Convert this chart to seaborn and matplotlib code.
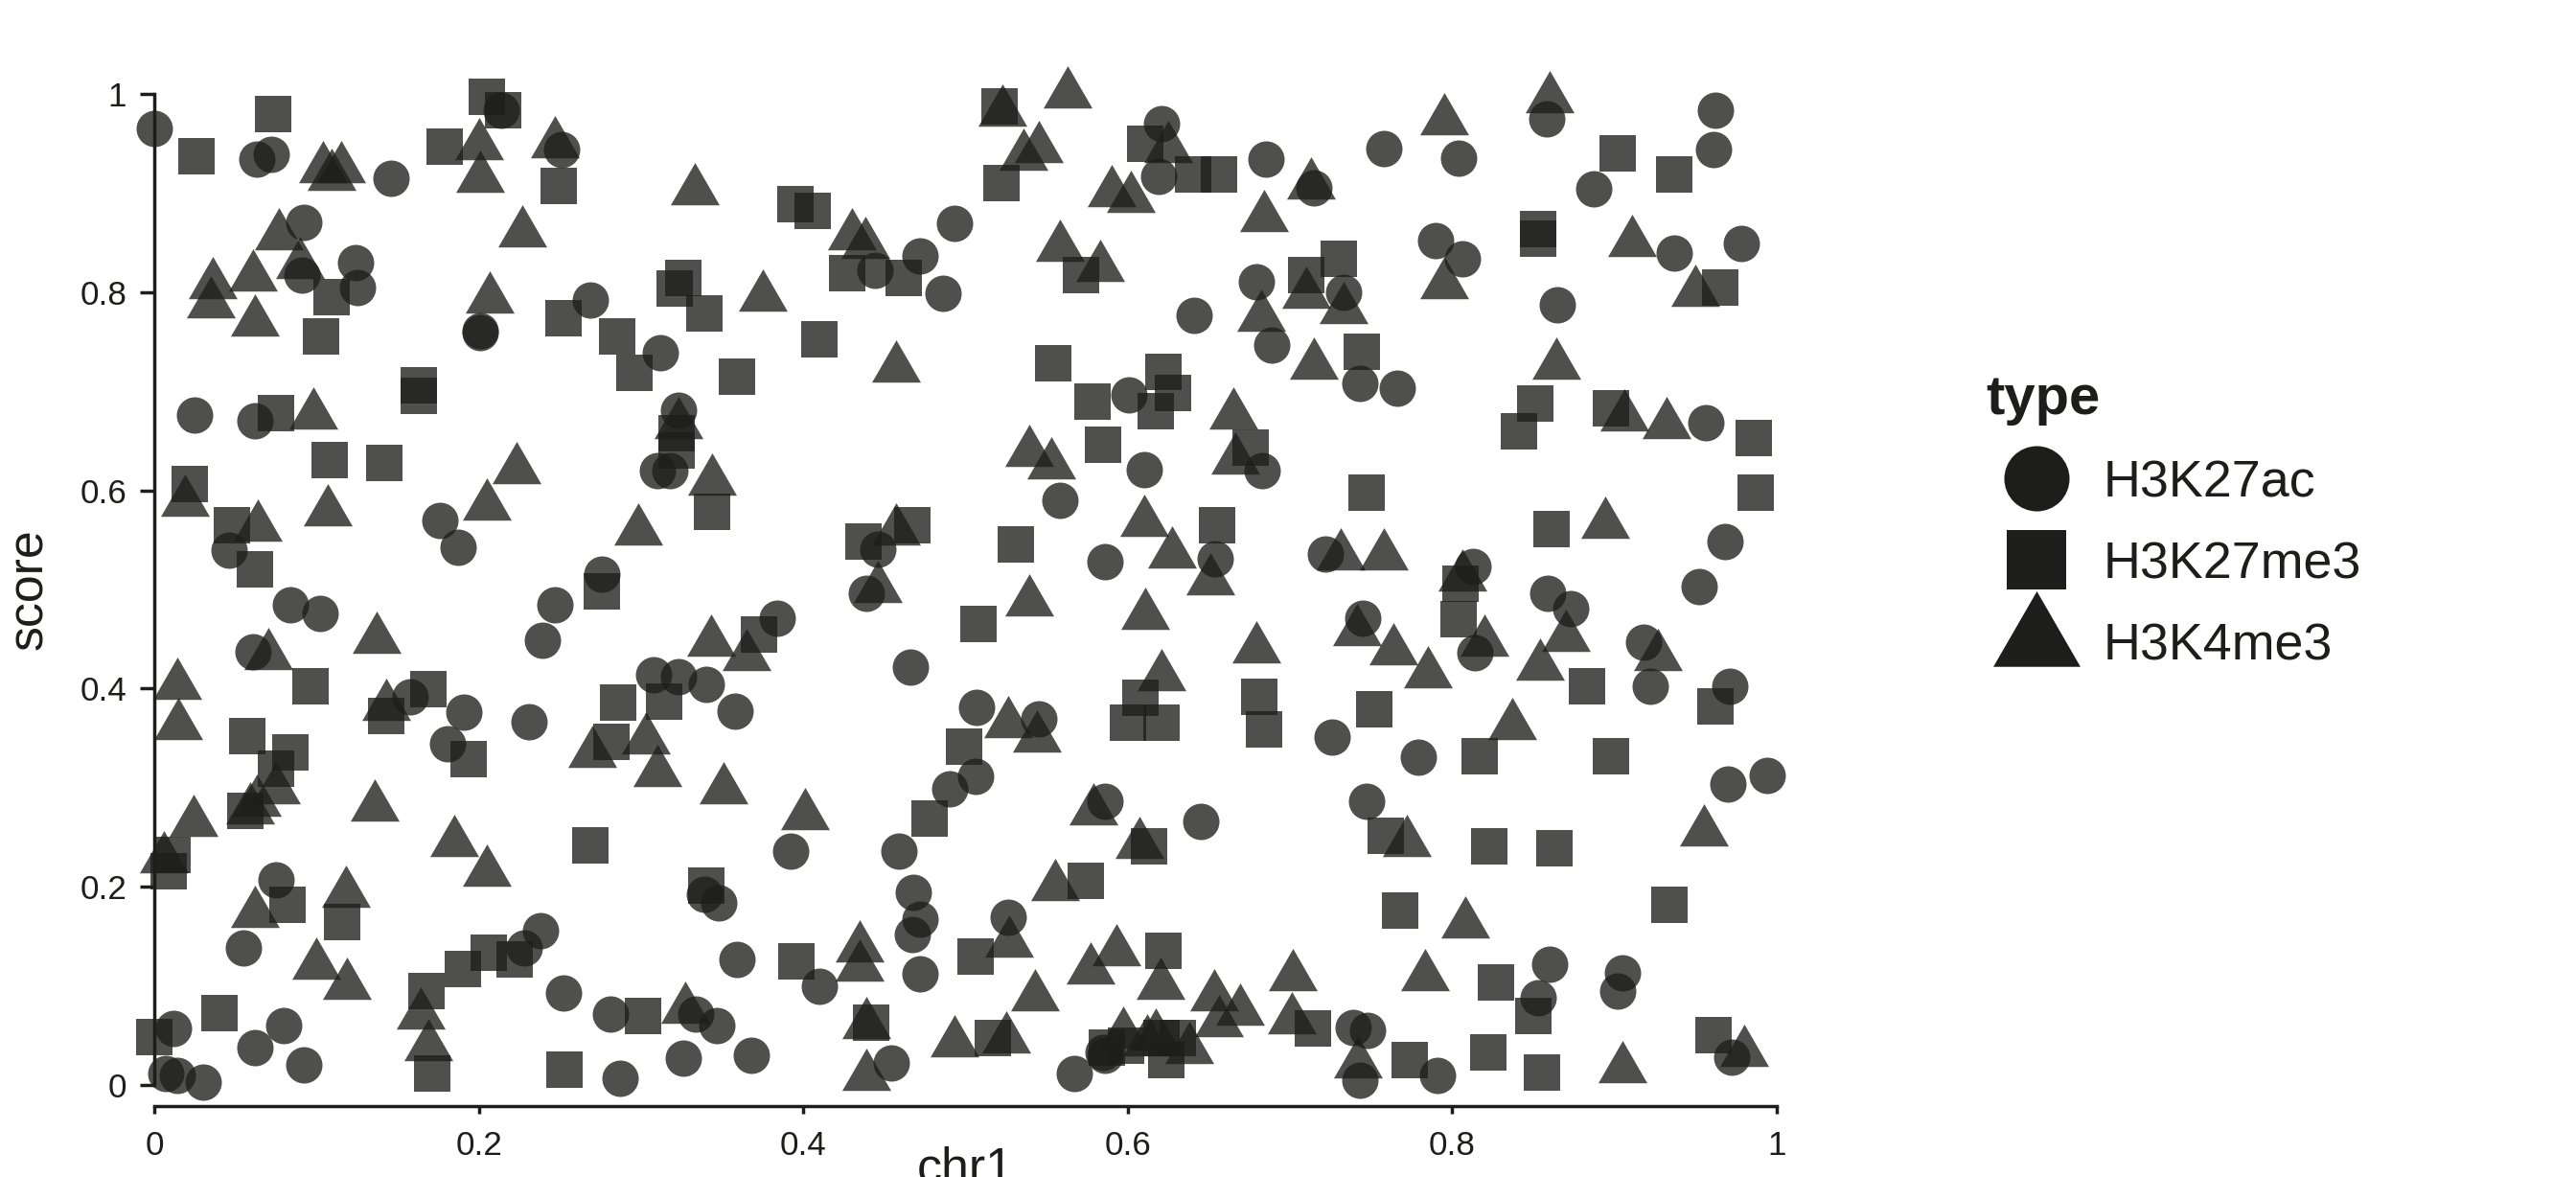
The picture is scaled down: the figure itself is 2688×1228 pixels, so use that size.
import matplotlib
matplotlib.use("Agg")
import matplotlib.pyplot as plt
from matplotlib.lines import Line2D
import seaborn as sns
import pandas as pd

sns.set_theme(style="white")
plt.rcParams['font.family'] = ['Liberation Sans', 'DejaVu Sans']

ac_x = [0,.063,.072,.146,.092,.091,.124,.125,.214,.251,.201,.201,.269,.312,.323,.31,.318,.025,.062,.176,.187,.046,.084,.102,.061,.276,.247,.239,.384,.308,.323,.34,.358,.158,.191,.181,.231,.075,.055,.238,.228,.252,.339,.348,.359,.281,.334,.347,.368,.326,.287,.012,.08,.062,.092,.007,.014,.03,.41,.392,.459,.468,.472,.467,.472,.454,.446,.439,.466,.507,.545,.49,.506,.526,.444,.472,.486,.493,.558,.586,.586,.645,.567,.586,.585,.601,.61,.621,.619,.641,.685,.689,.679,.683,.654,.715,.758,.804,.79,.806,.733,.743,.766,.722,.745,.726,.747,.779,.739,.748,.743,.791,.813,.814,.873,.859,.858,.865,.887,.937,.961,.962,.978,.956,.968,.952,.918,.922,.971,.97,.994,.86,.853,.905,.902,.972]
ac_y = [.965,.934,.939,.915,.870,.817,.830,.805,.984,.944,.759,.761,.792,.739,.681,.620,.620,.676,.670,.570,.543,.540,.485,.476,.437,.515,.485,.449,.471,.414,.412,.404,.377,.392,.376,.344,.367,.207,.138,.156,.138,.093,.192,.184,.127,.072,.072,.060,.030,.027,.007,.057,.060,.038,.020,.012,.010,.003,.100,.236,.236,.194,.167,.152,.112,.022,.541,.496,.422,.381,.369,.299,.311,.169,.822,.837,.799,.869,.590,.528,.286,.266,.012,.030,.033,.696,.621,.970,.917,.777,.934,.747,.810,.620,.531,.905,.945,.935,.852,.834,.800,.708,.703,.536,.471,.351,.286,.331,.058,.055,.005,.010,.523,.436,.481,.496,.975,.787,.904,.839,.944,.984,.849,.668,.548,.503,.447,.402,.402,.304,.312,.122,.088,.113,.095,.028]

me3_x = [.073,.026,.205,.215,.179,.249,.103,.109,.163,.163,.252,.285,.296,.321,.326,.339,.359,.395,.406,.41,.427,.462,.075,.108,.142,.022,.048,.062,.096,.169,.143,.057,.084,.075,.056,.194,.322,.322,.344,.437,.467,.276,.286,.282,.314,.373,.269,.34,.011,.009,.082,.116,.04,0,.168,.171,.19,.206,.222,.253,.301,.396,.442,.478,.499,.508,.531,.506,.517,.522,.521,.554,.571,.578,.585,.574,.611,.64,.656,.622,.617,.628,.655,.676,.71,.73,.744,.747,.681,.684,.608,.6,.621,.613,.622,.587,.599,.621,.631,.624,.714,.752,.759,.768,.774,.822,.827,.823,.817,.805,.804,.841,.851,.853,.853,.861,.863,.883,.898,.898,.902,.937,.965,.986,.987,.962,.934,.961,.85,.855]
me3_y = [.980,.937,.997,.984,.947,.907,.755,.795,.706,.695,.774,.755,.719,.804,.814,.779,.715,.889,.882,.752,.819,.814,.678,.631,.628,.606,.565,.520,.402,.399,.372,.352,.336,.319,.277,.329,.658,.640,.578,.548,.565,.498,.386,.346,.387,.455,.242,.201,.232,.216,.182,.164,.073,.048,.095,.012,.117,.133,.127,.015,.070,.125,.063,.269,.341,.465,.545,.130,.047,.910,.987,.728,.817,.690,.646,.206,.950,.919,.919,.720,.680,.698,.565,.643,.817,.834,.740,.598,.392,.359,.391,.366,.366,.241,.135,.038,.040,.047,.047,.025,.057,.379,.251,.176,.025,.033,.103,.241,.332,.506,.470,.660,.688,.864,.854,.561,.239,.402,.683,.332,.940,.919,.805,.653,.598,.382,.182,.050,.070,.013]

k4_x = [.563,.86,.795,.104,.115,.109,.2,.201,.247,.227,.333,.077,.09,.036,.035,.061,.062,.207,.375,.43,.438,.457,.523,.545,.536,.558,.583,.59,.602,.625,.684,.713,.682,.71,.733,.715,.911,.795,.864,.95,.906,.932,.098,.323,.344,.107,.019,.064,.223,.205,.298,.539,.553,.665,.666,.61,.627,.651,.539,.611,.446,.457,.679,.731,.758,.741,.764,.785,.82,.894,.806,.854,.87,.927,.837,.955,.621,.137,.014,.015,.07,.143,.343,.365,.303,.31,.27,.351,.526,.544,.136,.024,.185,.205,.006,.075,.063,.059,.118,.062,.1,.119,.164,.169,.401,.579,.607,.555,.527,.435,.435,.439,.439,.543,.493,.525,.577,.593,.62,.597,.612,.617,.638,.653,.669,.656,.702,.701,.742,.772,.783,.808,.905,.98,.327]
k4_y = [1.0,.995,.973,.925,.925,.917,.948,.915,.950,.860,.902,.857,.828,.808,.788,.815,.770,.793,.795,.857,.848,.723,.982,.945,.937,.845,.825,.900,.895,.945,.875,.908,.775,.798,.782,.726,.850,.808,.726,.800,.674,.666,.676,.666,.609,.578,.588,.563,.621,.584,.559,.638,.626,.676,.631,.568,.536,.509,.487,.474,.501,.559,.440,.534,.534,.457,.438,.415,.447,.566,.513,.423,.452,.432,.363,.255,.412,.450,.403,.363,.433,.382,.447,.432,.348,.315,.335,.298,.365,.350,.280,.265,.245,.215,.228,.298,.285,.278,.193,.173,.121,.101,.071,.039,.272,.277,.243,.200,.143,.138,.119,.061,.009,.089,.043,.046,.116,.134,.101,.051,.044,.049,.036,.089,.074,.063,.109,.066,.021,.245,.109,.162,.016,.033,.076]

type_names = ['H3K27ac', 'H3K27me3', 'H3K4me3']
tick_vals = [0, .2, .4, .6, .8, 1]
tick_labels = ['0', '0.2', '0.4', '0.6', '0.8', '1']

W, H = 2688, 1228
fig = plt.figure(figsize=(W / 200, H / 200), dpi=200)
ax = fig.add_axes([161 / W, 1 - 1132 / H, 1693 / W, 1034 / H])

ink = '#1d1d1b'
tri = [(-1, -0.577), (1, -0.577), (0, 1.155)]

frames = [pd.DataFrame({'chr1': ac_x, 'score': ac_y}),
          pd.DataFrame({'chr1': me3_x, 'score': me3_y}),
          pd.DataFrame({'chr1': k4_x, 'score': k4_y})]
for df, m, s in zip(frames, ['o', 's', tri], [187, 187, 450]):
    sns.scatterplot(data=df, x='chr1', y='score', marker=m, s=s, color=ink,
                    alpha=.78, linewidth=0, clip_on=False, zorder=3, ax=ax)

ax.set_xlim(0, 1)
ax.set_ylim(0, 1)
ax.set_xticks(tick_vals, tick_labels)
ax.set_yticks(tick_vals, tick_labels)
sns.despine(ax=ax)
ax.spines['bottom'].set_position(('outward', 7.9))
for sp in ['left', 'bottom']:
    ax.spines[sp].set_linewidth(1.25)
    ax.spines[sp].set_color(ink)
ax.tick_params(axis='x', length=3, width=1.25, color=ink, labelcolor=ink, labelsize=12.6, pad=6, bottom=True)
ax.tick_params(axis='y', length=5.4, width=1.25, color=ink, labelcolor=ink, labelsize=12.6, pad=5, left=True)
ax.set_xlabel('chr1', fontsize=18.7, color=ink)
ax.set_ylabel('score', fontsize=18.7, color=ink)
ax.xaxis.set_label_coords(.5, (1132 - 1195) / 1034, transform=ax.transAxes)
ax.xaxis.label.set_va('top')
ax.yaxis.set_label_coords((31 - 161) / 1693, .5, transform=ax.transAxes)
ax.yaxis.label.set_va('center')

handles = [Line2D([], [], linestyle='', marker='o', markersize=24.5, color=ink, markeredgewidth=0),
           Line2D([], [], linestyle='', marker='s', markersize=22, color=ink, markeredgewidth=0),
           Line2D([], [], linestyle='', marker=tri, markersize=37.8, color=ink, markeredgewidth=0)]
leg = fig.legend(handles, type_names, title='type', frameon=False, loc='upper left',
                 bbox_to_anchor=(2072 / W, 1 - 390 / H), alignment='left', fontsize=19.4,
                 labelspacing=.65, handletextpad=.32, handlelength=1.96, borderpad=0, borderaxespad=0,
                 title_fontproperties={'weight': 'bold', 'size': 20.9, 'family': 'Liberation Sans'}, labelcolor=ink)
leg.get_title().set_color(ink)

fig.savefig('out.png', dpi=200)
